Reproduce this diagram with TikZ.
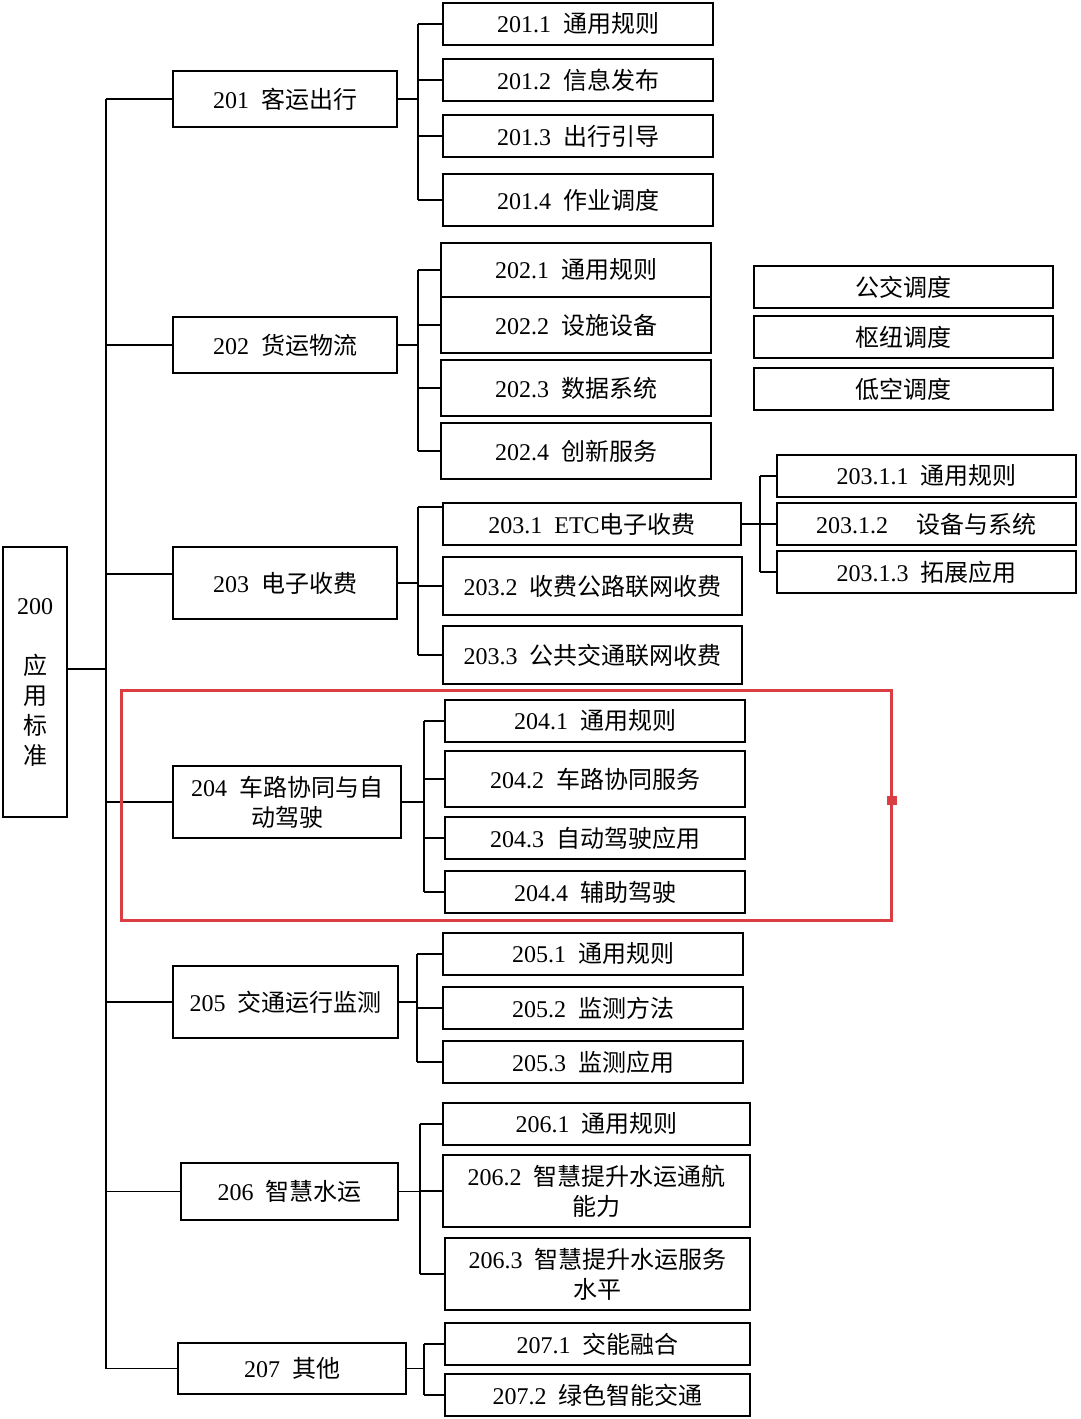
\documentclass[tikz,border=0pt]{standalone}
\usepackage{fontspec}
\setmainfont{Liberation Serif}
\newfontfamily\cjk{Noto Sans CJK SC}
\newcommand\tx[2]{#1\hspace{0.5em}{\cjk #2}}
\definecolor{redframe}{RGB}{218,62,66}
\begin{document}
\begin{tikzpicture}[x=1pt,y=-1pt,
  box/.style={draw=black, line width=1.6pt, inner sep=0pt, align=center,
    font=\fontsize{24}{30}\selectfont},
  link/.style={draw=black, line width=1.6pt}]
\useasboundingbox (0,0) rectangle (1080,1419);
\fill[white] (0,0) rectangle (1080,1419);
% root
\node[box, minimum width=64pt, minimum height=270pt] (b200) at (35,682)
  {200\\[30pt]{\cjk 应}\\{\cjk 用}\\{\cjk 标}\\{\cjk 准}};
% level 1
\node[box, minimum width=224pt, minimum height=56pt] (b201) at (285,99) {\tx{201}{客运出行}};
\node[box, minimum width=224pt, minimum height=56pt] (b202) at (285,345) {\tx{202}{货运物流}};
\node[box, minimum width=224pt, minimum height=72pt] (b203) at (285,583) {\tx{203}{电子收费}};
\node[box, minimum width=228pt, minimum height=72pt] (b204) at (287,802) {\tx{204}{车路协同与自}\\{\cjk 动驾驶}};
\node[box, minimum width=225pt, minimum height=72pt] (b205) at (285.5,1002) {\tx{205}{交通运行监测}};
\node[box, minimum width=217pt, minimum height=57pt] (b206) at (289.5,1191.5) {\tx{206}{智慧水运}};
\node[box, minimum width=228pt, minimum height=51pt] (b207) at (292,1368.5) {\tx{207}{其他}};
% 201
\node[box, minimum width=270pt, minimum height=42pt] (b2011) at (578,24) {\tx{201.1}{通用规则}};
\node[box, minimum width=270pt, minimum height=42pt] (b2012) at (578,80) {\tx{201.2}{信息发布}};
\node[box, minimum width=270pt, minimum height=42pt] (b2013) at (578,136) {\tx{201.3}{出行引导}};
\node[box, minimum width=270pt, minimum height=52pt] (b2014) at (578,200) {\tx{201.4}{作业调度}};
% 202
\node[box, minimum width=270pt, minimum height=54pt] (b2021) at (576,270) {\tx{202.1}{通用规则}};
\node[box, minimum width=270pt, minimum height=56pt] (b2022) at (576,325) {\tx{202.2}{设施设备}};
\node[box, minimum width=270pt, minimum height=56pt] (b2023) at (576,388) {\tx{202.3}{数据系统}};
\node[box, minimum width=270pt, minimum height=56pt] (b2024) at (576,451) {\tx{202.4}{创新服务}};
% dispatch boxes
\node[box, minimum width=299pt, minimum height=42pt] (bus) at (903.5,287) {\cjk 公交调度};
\node[box, minimum width=299pt, minimum height=42pt] (hub) at (903.5,337) {\cjk 枢纽调度};
\node[box, minimum width=299pt, minimum height=42pt] (air) at (903.5,389) {\cjk 低空调度};
% 203
\node[box, minimum width=298pt, minimum height=42pt] (b2031) at (592,524) {203.1\hspace{0.5em}ETC{\cjk 电子收费}};
\node[box, minimum width=299pt, minimum height=58pt] (b2032) at (592.5,586) {\tx{203.2}{收费公路联网收费}};
\node[box, minimum width=299pt, minimum height=58pt] (b2033) at (592.5,655) {\tx{203.3}{公共交通联网收费}};
\node[box, minimum width=299pt, minimum height=42pt] (b20311) at (926.5,476) {\tx{203.1.1}{通用规则}};
\node[box, minimum width=299pt, minimum height=42pt] (b20312) at (926.5,524) {203.1.2\hspace{1.2em}{\cjk 设备与系统}};
\node[box, minimum width=299pt, minimum height=42pt] (b20313) at (926.5,572) {\tx{203.1.3}{拓展应用}};
% 204
\node[box, minimum width=300pt, minimum height=42pt] (b2041) at (595,721) {\tx{204.1}{通用规则}};
\node[box, minimum width=300pt, minimum height=56pt] (b2042) at (595,779) {\tx{204.2}{车路协同服务}};
\node[box, minimum width=300pt, minimum height=42pt] (b2043) at (595,838) {\tx{204.3}{自动驾驶应用}};
\node[box, minimum width=300pt, minimum height=42pt] (b2044) at (595,892) {\tx{204.4}{辅助驾驶}};
% 205
\node[box, minimum width=300pt, minimum height=42pt] (b2051) at (593,954) {\tx{205.1}{通用规则}};
\node[box, minimum width=300pt, minimum height=42pt] (b2052) at (593,1008) {\tx{205.2}{监测方法}};
\node[box, minimum width=300pt, minimum height=42pt] (b2053) at (593,1062) {\tx{205.3}{监测应用}};
% 206
\node[box, minimum width=307pt, minimum height=42pt] (b2061) at (596.5,1124) {\tx{206.1}{通用规则}};
\node[box, minimum width=307pt, minimum height=72pt] (b2062) at (596.5,1191) {\tx{206.2}{智慧提升水运通航}\\{\cjk 能力}};
\node[box, minimum width=305pt, minimum height=72pt] (b2063) at (597.5,1274) {\tx{206.3}{智慧提升水运服务}\\{\cjk 水平}};
% 207
\node[box, minimum width=305pt, minimum height=42pt] (b2071) at (597.5,1344) {\tx{207.1}{交能融合}};
\node[box, minimum width=305pt, minimum height=42pt] (b2072) at (597.5,1395) {\tx{207.2}{绿色智能交通}};
% bracket positions
\coordinate (trunk) at (106,0);
\coordinate (k201) at (418,0);
\coordinate (k202) at (418,0);
\coordinate (k203) at (418,0);
\coordinate (k2031) at (760,0);
\coordinate (k204) at (424,0);
\coordinate (k205) at (417,0);
\coordinate (k206) at (420,0);
\coordinate (k207) at (424,0);
\coordinate (r200) at ([yshift=13pt]b200.east);
\coordinate (l203) at ([yshift=9pt]b203.west);
\coordinate (l2031) at ([yshift=17pt]b2031.west);
% trunk
\draw[link] (r200) -- (r200 -| trunk);
\draw[link] (b201.west -| trunk) -- (b207.west -| trunk);
\foreach \n in {b201,b202,b204,b205,b206,b207}
  \draw[link] (\n.west -| trunk) -- (\n.west);
\draw[link] (l203 -| trunk) -- (l203);
% 201
\draw[link] (b201.east) -- (b201.east -| k201);
\draw[link] (b2011.west -| k201) -- (b2014.west -| k201);
\foreach \n in {b2011,b2012,b2013,b2014} \draw[link] (\n.west -| k201) -- (\n.west);
% 202
\draw[link] (b202.east) -- (b202.east -| k202);
\draw[link] (b2021.west -| k202) -- (b2024.west -| k202);
\foreach \n in {b2021,b2022,b2023,b2024} \draw[link] (\n.west -| k202) -- (\n.west);
% 203
\draw[link] (b203.east) -- (b203.east -| k203);
\draw[link] (l2031 -| k203) -- (b2033.west -| k203);
\draw[link] (l2031 -| k203) -- (l2031);
\foreach \n in {b2032,b2033} \draw[link] (\n.west -| k203) -- (\n.west);
\draw[link] (b2031.east) -- (b2031.east -| k2031);
\draw[link] (b20311.west -| k2031) -- (b20313.west -| k2031);
\foreach \n in {b20311,b20312,b20313} \draw[link] (\n.west -| k2031) -- (\n.west);
% 204
\draw[link] (b204.east) -- (b204.east -| k204);
\draw[link] (b2041.west -| k204) -- (b2044.west -| k204);
\foreach \n in {b2041,b2042,b2043,b2044} \draw[link] (\n.west -| k204) -- (\n.west);
% 205
\draw[link] (b205.east) -- (b205.east -| k205);
\draw[link] (b2051.west -| k205) -- (b2053.west -| k205);
\foreach \n in {b2051,b2052,b2053} \draw[link] (\n.west -| k205) -- (\n.west);
% 206
\draw[link] (b206.east) -- (b206.east -| k206);
\draw[link] (b2061.west -| k206) -- (b2063.west -| k206);
\foreach \n in {b2061,b2062,b2063} \draw[link] (\n.west -| k206) -- (\n.west);
% 207
\draw[link] (b207.east) -- (b207.east -| k207);
\draw[link] (b2071.west -| k207) -- (b2072.west -| k207);
\foreach \n in {b2071,b2072} \draw[link] (\n.west -| k207) -- (\n.west);
% red highlight frame
\draw[redframe, line width=3pt] (121,690) rectangle (891,920);
\fill[redframe] (887,796) rectangle (897,805);
\end{tikzpicture}
\end{document}
